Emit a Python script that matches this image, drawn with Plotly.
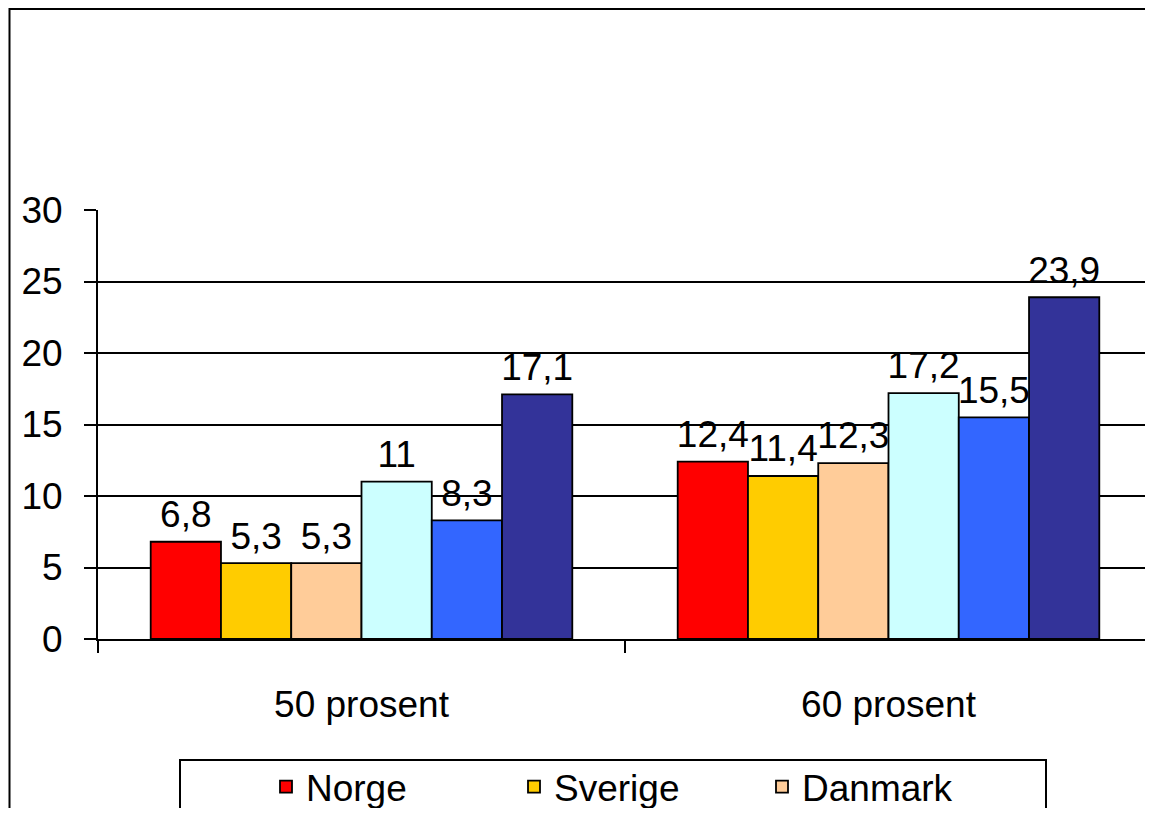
import plotly.graph_objects as go

categories = ["50 prosent", "60 prosent"]
series_names = ["Norge", "Sverige", "Danmark", "Finland", "Storbritannia", "USA"]
series_values = [
    [6.8, 12.4],
    [5.3, 11.4],
    [5.3, 12.3],
    [11.0, 17.2],
    [8.3, 15.5],
    [17.1, 23.9],
]
colors = ["#FF0000", "#FFCC00", "#FFCC99", "#CCFFFF", "#3366FF", "#333399"]
y_ticks = [0, 5, 10, 15, 20, 25, 30]

FONT = "Liberation Sans, Arial, sans-serif"
FS = 37

# The page body adds an 8px margin; figure is sized to avoid scrollbars.
OFF = 8
W, H = 1153 - 2 * OFF, 816 - 2 * OFF
PL, PR, PT, PB = 98, 1145, 210, 639  # plot area in page pixels
CAT_W = 527                           # pixel width of one category band
L = PL - OFF
R = W - (PR - OFF)
T = PT - OFF
B = H - (PB - OFF)
pw, ph = PR - PL, PB - PT


def px_x(x):
    return (x - PL) / pw


def px_y(y):
    return (PB - y) / ph


fig = go.Figure()
for i, (name, vals, col) in enumerate(zip(series_names, series_values, colors)):
    fig.add_trace(go.Bar(
        name=name, x=categories, y=vals, offsetgroup=str(i),
        marker=dict(color=col, line=dict(color="black", width=1.8)),
        showlegend=i < 3, legend="legend" if i < 3 else "legend2",
    ))
for i, (name, vals) in enumerate(zip(series_names, series_values)):
    fig.add_trace(go.Scatter(
        x=categories, y=vals, offsetgroup=str(i), orientation="v",
        mode="markers+text", marker=dict(size=7, opacity=0),
        text=[f"{v:g}".replace(".", ",") for v in vals],
        textposition="top center", cliponaxis=False,
        textfont=dict(size=FS, color="black", family=FONT),
        showlegend=False, hoverinfo="skip",
    ))

fig.update_layout(
    width=W, height=H,
    margin=dict(l=L, r=R, t=T, b=B, autoexpand=False, pad=0),
    paper_bgcolor="white", plot_bgcolor="white",
    barmode="group", bargap=0.2, bargroupgap=0,
    scattermode="group", scattergap=0.2,
    font=dict(family=FONT, size=FS, color="black"),
    showlegend=True,
    legend=dict(
        orientation="h", x=px_x(266), y=px_y(756), xanchor="left", yanchor="top",
        borderwidth=0, bgcolor="rgba(0,0,0,0)",
        font=dict(size=FS, family=FONT), entrywidth=203, entrywidthmode="pixels",
        traceorder="normal",
    ),
    legend2=dict(
        orientation="h", x=px_x(266), y=px_y(830), xanchor="left", yanchor="top",
        borderwidth=0, bgcolor="rgba(0,0,0,0)",
        font=dict(size=FS, family=FONT), entrywidth=203, entrywidthmode="pixels",
    ),
    yaxis=dict(
        range=[0, 30], tickvals=y_ticks, ticks="outside", ticklen=12, tickwidth=2,
        tickcolor="black", showline=True, linecolor="black", linewidth=2,
        showgrid=True, gridcolor="black", gridwidth=1.5, zeroline=False,
        ticklabelstandoff=14, tickfont=dict(size=FS),
    ),
    xaxis=dict(
        range=[-0.5, -0.5 + pw / CAT_W],
        ticks="outside", tickson="boundaries", ticklen=12, tickwidth=2,
        tickcolor="black", showline=True, linecolor="black", linewidth=2,
        ticklabelstandoff=32, tickfont=dict(size=FS),
    ),
    shapes=[
        dict(type="rect", xref="paper", yref="paper",
             x0=px_x(9.5), x1=px_x(1200), y0=px_y(9), y1=px_y(900),
             line=dict(color="black", width=2), layer="below"),
        dict(type="rect", xref="paper", yref="paper",
             x0=px_x(180), x1=px_x(1046), y0=px_y(760), y1=px_y(900),
             line=dict(color="black", width=2), fillcolor="white", layer="below"),
    ],
)

fig.write_html("out.html")
